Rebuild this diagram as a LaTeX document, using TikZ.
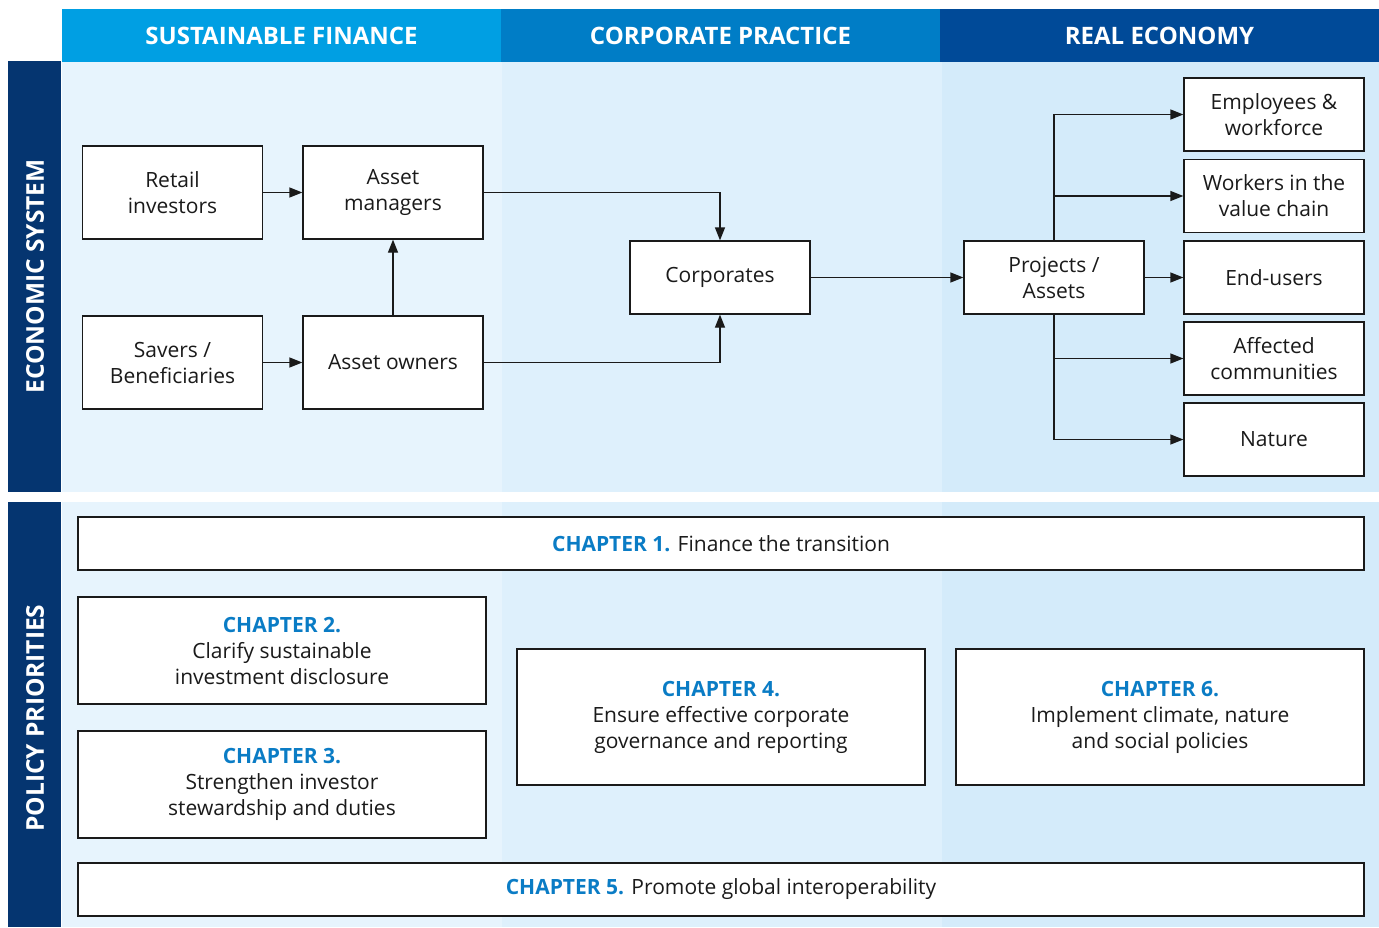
\documentclass[tikz,border=0pt]{standalone}
\usepackage{fontspec}
\setmainfont{Open Sans}
\usetikzlibrary{arrows.meta}
\definecolor{hdA}{HTML}{009FE3}
\definecolor{hdB}{HTML}{007DC6}
\definecolor{hdC}{HTML}{004A98}
\definecolor{side}{HTML}{053570}
\definecolor{pnA}{HTML}{E7F4FD}
\definecolor{pnB}{HTML}{DEF0FC}
\definecolor{pnC}{HTML}{D4EBFA}
\definecolor{chap}{HTML}{0A7CC5}
\definecolor{ink}{HTML}{1A1A1A}
\tikzset{
  ebox/.style={draw=ink, fill=white, line width=1.2pt, minimum width=180pt, inner sep=0pt, align=center, text=ink, font=\fontsize{21}{26}\selectfont},
  cbox/.style={draw=ink, fill=white, line width=1.2pt, inner sep=0pt, align=center, text=ink, font=\fontsize{21}{26}\selectfont},
  hdr/.style={text=white, font=\bfseries\fontsize{24}{26}\selectfont},
  sidelbl/.style={text=white, rotate=90, font=\bfseries\fontsize{24.5}{26}\selectfont},
  conn/.style={draw=ink, line width=1.2pt, -{Triangle[length=13pt,width=10pt]}},
  line/.style={draw=ink, line width=1.2pt}
}
\newcommand{\chp}[1]{{\color{chap}\bfseries #1}}
\begin{document}
\begin{tikzpicture}[x=1pt,y=-1pt]
\useasboundingbox (0,0) rectangle (1379,927);
% headers
\fill[hdA] (62,9) rectangle (501,62);
\fill[hdB] (501,9) rectangle (940,62);
\fill[hdC] (940,9) rectangle (1379,62);
\node[hdr] (h1) at (281.5,36) {SUSTAINABLE FINANCE};
\node[hdr] (h2) at (720.5,36) {CORPORATE PRACTICE};
\node[hdr] (h3) at (1159.5,36) {REAL ECONOMY};
% panels
\fill[pnA] (62,62) rectangle (502,492);
\fill[pnB] (502,62) rectangle (942,492);
\fill[pnC] (942,62) rectangle (1379,492);
\fill[pnA] (62,502) rectangle (502,927);
\fill[pnB] (502,502) rectangle (942,927);
\fill[pnC] (942,502) rectangle (1379,927);
% side bars
\fill[side] (8,61) rectangle (61,492);
\fill[side] (8,502) rectangle (61,927);
\node[sidelbl] (s1) at (35,276.5) {ECONOMIC SYSTEM};
\node[sidelbl] (s2) at (35,718) {POLICY PRIORITIES};
% economic system boxes
\node[ebox, minimum height=93pt] (ri) at (172.5,192.5) {Retail\\investors};
\node[ebox, minimum height=93pt] (am) at (393,192.5) {Asset\\managers};
\node[ebox, minimum height=93pt] (sb) at (172.5,362.5) {Savers /\\Beneficiaries};
\node[ebox, minimum height=93pt] (ao) at (393,362.5) {Asset owners};
\node[ebox, minimum height=73pt] (co) at (720,277.5) {Corporates};
\node[ebox, minimum height=73pt] (pa) at (1054,277.5) {Projects /\\Assets};
\node[ebox, minimum height=73pt] (e1) at (1274,114.5) {Employees \&\\workforce};
\node[ebox, minimum height=73pt] (e2) at (1274,196) {Workers in the\\value chain};
\node[ebox, minimum height=73pt] (e3) at (1274,277.5) {End-users};
\node[ebox, minimum height=73pt] (e4) at (1274,358.5) {Affected\\communities};
\node[ebox, minimum height=73pt] (e5) at (1274,439.5) {Nature};
% connectors
\draw[conn] (ri) -- (am);
\draw[conn] (sb) -- (ao);
\draw[conn] (ao) -- (am);
\draw[conn] (am.east) -| (co.north);
\draw[conn] (ao.east) -| (co.south);
\draw[conn] (co) -- (pa);
\draw[conn] (pa) -- (e3);
\draw[conn] (pa.north) |- (e1.west);
\draw[conn] (pa.north) |- (e2.west);
\draw[conn] (pa.south) |- (e4.west);
\draw[conn] (pa.south) |- (e5.west);
% policy boxes
\node[cbox, minimum width=1286pt, minimum height=53pt] (c1) at (721,543.5) {\chp{CHAPTER 1.} Finance the transition};
\node[cbox, minimum width=408pt, minimum height=107pt] (c2) at (282,650.5) {\chp{CHAPTER 2.}\\Clarify sustainable\\investment disclosure};
\node[cbox, minimum width=408pt, minimum height=107pt] (c3) at (282,784.5) {\chp{CHAPTER 3.}\\Strengthen investor\\stewardship and duties};
\node[cbox, minimum width=408pt, minimum height=136pt] (c4) at (721,717) {\chp{CHAPTER 4.}\\Ensure effective corporate\\governance and reporting};
\node[cbox, minimum width=408pt, minimum height=136pt] (c6) at (1160,717) {\chp{CHAPTER 6.}\\Implement climate, nature\\and social policies};
\node[cbox, minimum width=1286pt, minimum height=53pt] (c5) at (721,889.5) {\chp{CHAPTER 5.} Promote global interoperability};
\end{tikzpicture}
\end{document}
